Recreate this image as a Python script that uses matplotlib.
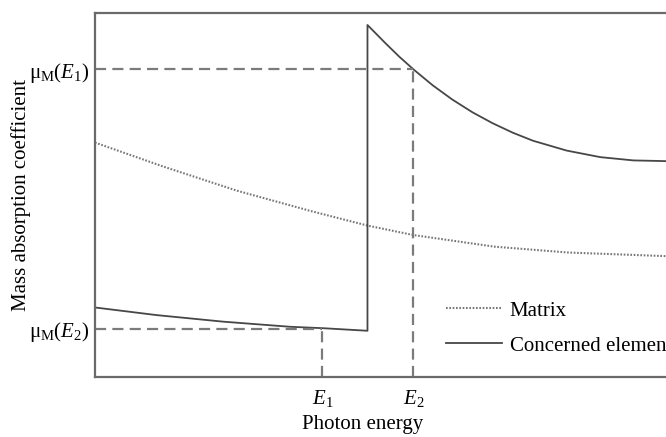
import matplotlib
matplotlib.use("Agg")
import matplotlib.pyplot as plt

plt.rcParams["font.family"] = ["Liberation Serif", "DejaVu Serif"]
plt.rcParams["mathtext.fontset"] = "custom"
plt.rcParams["mathtext.rm"] = "Liberation Serif"
plt.rcParams["mathtext.it"] = "Liberation Serif:italic"

# photon energy (arbitrary units) and mass absorption coefficient
element_low_x = [0.0, 1.01, 2.10, 3.19, 3.74, 4.46]
element_low_y = [1.91, 1.70, 1.52, 1.38, 1.34, 1.27]
element_high_x = [4.46, 4.76, 4.98, 5.22, 5.53, 5.85, 6.18, 6.51, 6.84, 7.17,
                  7.72, 8.27, 8.81, 9.35, 10.0]
element_high_y = [9.67, 9.16, 8.80, 8.44, 8.01, 7.62, 7.27, 6.97, 6.71, 6.49,
                  6.22, 6.04, 5.95, 5.93, 5.93]
matrix_x = [0.0, 1.12, 2.32, 3.53, 4.46, 5.21, 6.54, 7.74, 9.35, 10.0]
matrix_y = [6.44, 5.78, 5.12, 4.56, 4.16, 3.90, 3.58, 3.42, 3.32, 3.31]

E1, E2 = 3.72, 5.21
mu_E1, mu_E2 = 8.45, 1.32
x_ticklabels = [r"$E_1$", r"$E_2$"]
y_ticklabels = [r"$\mathrm{\mu}_\mathrm{M}(E_2)$", r"$\mathrm{\mu}_\mathrm{M}(E_1)$"]

LINE = "#474747"
DASH = "#7b7b7b"
FS = 15

fig = plt.figure(figsize=(6.66, 4.37), dpi=100)
# the right edge of the plot frame runs past the picture, as in the source figure
ax = fig.add_axes([0.1426, 0.1373, 0.9174, 0.833])

ax.plot(matrix_x, matrix_y, color="#777777", lw=1.5, linestyle=(0, (0.8, 0.8)),
        label="Matrix")
ax.plot(element_low_x + element_high_x, element_low_y + element_high_y,
        color=LINE, lw=1.3, label="Concerned element")

dash_kw = dict(color=DASH, lw=1.6, dashes=(5, 2.8))
ax.plot([0, E2], [mu_E1, mu_E1], **dash_kw)
ax.plot([E2, E2], [0, mu_E1], **dash_kw)
ax.plot([0, E1], [mu_E2, mu_E2], **dash_kw)
ax.plot([E1, E1], [0, mu_E2], **dash_kw)

ax.set_xlim(0, 10)
ax.set_ylim(0, 10)
ax.set_xticks([E1, E2])
ax.set_xticklabels(x_ticklabels, fontsize=FS)
ax.set_yticks([mu_E2, mu_E1])
ax.set_yticklabels(y_ticklabels, fontsize=FS)
ax.tick_params(length=0)
ax.tick_params(axis="x", pad=8)
ax.tick_params(axis="y", pad=4)

for side in ["left", "bottom", "top", "right"]:
    ax.spines[side].set_color("#6a6a6a")
    ax.spines[side].set_linewidth(1.6)

ax.set_xlabel("Photon energy", fontsize=FS)
ax.xaxis.set_label_coords(0.4386, -0.104)
ax.set_ylabel("Mass absorption coefficient", fontsize=FS)
ax.yaxis.set_label_coords(-0.1047, 0.5)

ax.legend(loc="upper left", bbox_to_anchor=(446 / 666, 1 - 301 / 437),
          bbox_transform=fig.transFigure, frameon=False, fontsize=FS,
          handlelength=2.7, handletextpad=0.35, labelspacing=0.74,
          borderpad=0, borderaxespad=0)

fig.savefig("out.png", dpi=100)
